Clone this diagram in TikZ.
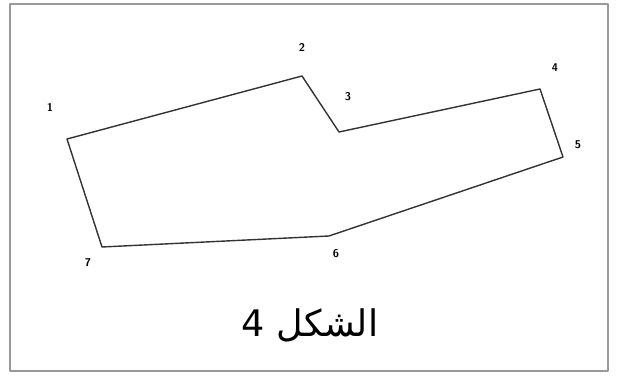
\documentclass[tikz,border=0pt]{standalone}
\usepackage{fontspec}
\newfontfamily\arabicfont[Script=Arabic]{DejaVu Sans}
\TeXXeTstate=1

\begin{document}
\begin{tikzpicture}[x=0.025cm,y=-0.025cm,line cap=round,line join=round]
\useasboundingbox (0,0) rectangle (617,379);
\draw[line width=1.5pt,gray!80] (10,4) rectangle (608,371);
\coordinate (p1) at (67,139);
\coordinate (p2) at (302,76);
\coordinate (p3) at (339,132);
\coordinate (p4) at (540,89);
\coordinate (p5) at (563,157);
\coordinate (p6) at (329,236);
\coordinate (p7) at (102,247);
\draw[line width=1pt,black!80] (p1) -- (p2) -- (p3) -- (p4) -- (p5) -- (p6) -- (p7) -- cycle;
\foreach \n/\x/\y in {1/50/107,2/302/47,3/348/97,4/555/68,5/578/145,6/336/254,7/88/263}
  {\node[font=\sffamily\bfseries\footnotesize] (l\n) at (\x,\y) {\n};}
\node[font=\arabicfont\fontsize{26}{30}\selectfont] (cap) at (310,325) {\beginR الشكل 4\endR};
\end{tikzpicture}
\end{document}
